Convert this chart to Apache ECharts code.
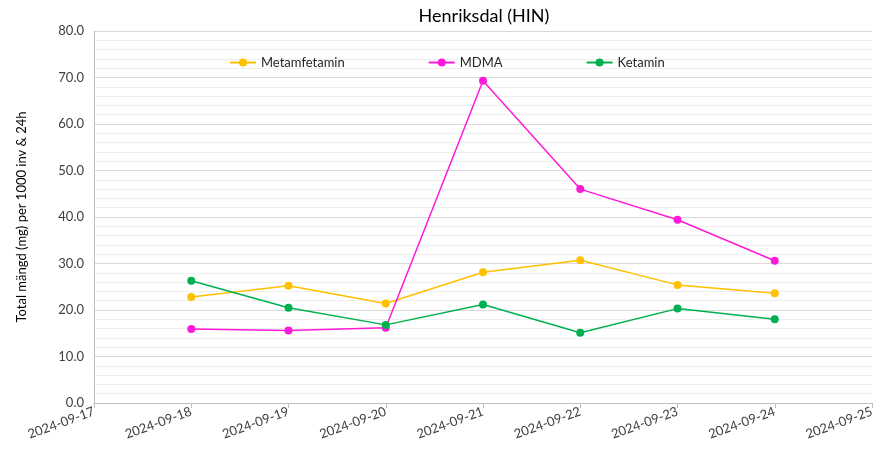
<!DOCTYPE html>
<html><head><meta charset="utf-8">
<script src="https://cdn.jsdelivr.net/npm/echarts@6/dist/echarts.min.js"></script>
<style>html,body{margin:0;padding:0;background:#fff}#c{width:887px;height:451px}</style>
</head><body><div id="c"></div>
<script>
const categories = ['2024-09-17','2024-09-18','2024-09-19','2024-09-20','2024-09-21','2024-09-22','2024-09-23','2024-09-24','2024-09-25'];
const metamfetamin = [null, 22.8, 25.2, 21.4, 28.1, 30.7, 25.4, 23.6, null];
const mdma = [null, 15.9, 15.6, 16.2, 69.3, 46.0, 39.4, 30.6, null];
const ketamin = [null, 26.3, 20.5, 16.8, 21.2, 15.1, 20.3, 18.0, null];
const yTicks = [0, 10, 20, 30, 40, 50, 60, 70, 80];

const font = 'Lato';
const chart = echarts.init(document.getElementById('c'));
function ser(name, data, color) {
  return { name, type: 'line', data, connectNulls: false, symbol: 'circle', symbolSize: 8,
    itemStyle: { color }, lineStyle: { color, width: 1.5 }, emphasis: { disabled: true } };
}
chart.setOption({
  animation: false,
  title: { text: 'Henriksdal (HIN)', left: 479, top: 2, textAlign: 'center',
    textStyle: { fontFamily: font, fontSize: 18, fontWeight: 'normal', color: '#000' } },
  legend: { left: 224, top: 51, itemGap: 83, itemWidth: 26, itemHeight: 10,
    textStyle: { fontFamily: font, fontSize: 13, color: '#262626' },
    data: ['Metamfetamin', 'MDMA', 'Ketamin'] },
  grid: { left: 94, right: 15, top: 31, bottom: 48 },
  xAxis: { type: 'category', data: categories, boundaryGap: false,
    axisLine: { lineStyle: { color: '#bfbfbf' } },
    axisTick: { show: true, alignWithLabel: true, lineStyle: { color: '#bfbfbf' } },
    axisLabel: { rotate: 20, fontFamily: font, fontSize: 13, color: '#404040', margin: 8 },
    splitLine: { show: false } },
  yAxis: { type: 'value', min: yTicks[0], max: yTicks[yTicks.length - 1], interval: 10,
    name: 'Total mängd (mg) per 1000 inv & 24h', nameLocation: 'middle', nameGap: 66, nameRotate: 90,
    nameTextStyle: { fontFamily: font, fontSize: 13, color: '#000' },
    axisLine: { show: true, lineStyle: { color: '#bfbfbf' } },
    axisTick: { show: false },
    axisLabel: { fontFamily: font, fontSize: 13, color: '#404040', margin: 10, formatter: v => v.toFixed(1) },
    splitLine: { lineStyle: { color: '#d9d9d9', width: 1 } },
    minorTick: { show: false, splitNumber: 5 },
    minorSplitLine: { show: true, lineStyle: { color: '#eeeeee', width: 1 } } },
  series: [ ser('Metamfetamin', metamfetamin, '#ffc000'), ser('MDMA', mdma, '#ff19d9'), ser('Ketamin', ketamin, '#00b050') ]
});
</script></body></html>
